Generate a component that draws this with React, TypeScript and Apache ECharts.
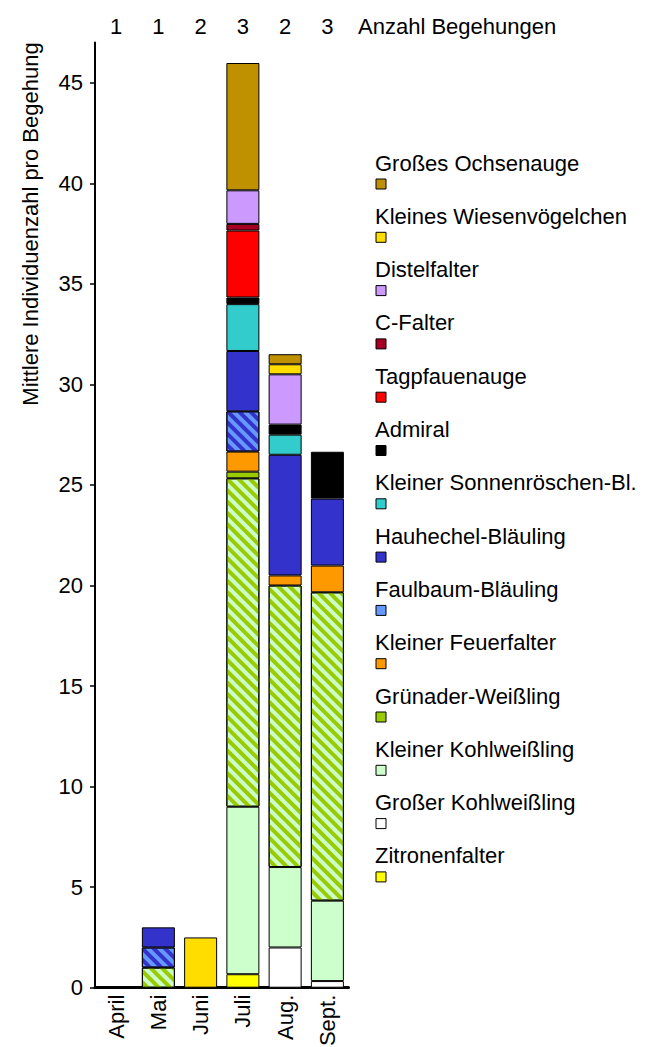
import React, { useEffect, useRef } from 'react';
import * as echarts from 'echarts';

// Categories (months) and number of visits per month
const months = ['April', 'Mai', 'Juni', 'Juli', 'Aug.', 'Sept.'];
const visits = ['1', '1', '2', '3', '2', '3'];
const yTicks = [0, 5, 10, 15, 20, 25, 30, 35, 40, 45];

// Mean individuals per visit (April, Mai, Juni, Juli, Aug., Sept.)
const zitronenfalter = [0, 0, 0, 0.67, 0, 0];
const grosserKohlweissling = [0, 0, 0, 0, 2, 0.33];
const kleinerKohlweissling = [0, 0, 0, 8.33, 4, 4];
const kohlweisslingeUnbestimmt = [0, 1, 0, 16.33, 14, 15.33];
const gruenaderWeissling = [0, 0, 0, 0.33, 0, 0];
const kleinerFeuerfalter = [0, 0, 0, 1, 0.5, 1.33];
const faulbaumBlaeuling = [0, 1, 0, 2, 0, 0];
const hauhechelBlaeuling = [0, 1, 0, 3, 6, 3.33];
const sonnenroeschenBl = [0, 0, 0, 2.33, 1, 0];
const admiral = [0, 0, 0, 0.33, 0.5, 2.33];
const tagpfauenauge = [0, 0, 0, 3.33, 0, 0];
const cFalter = [0, 0, 0, 0.33, 0, 0];
const distelfalter = [0, 0, 0, 1.67, 2.5, 0];
const wiesenvoegelchen = [0, 0, 2.5, 0, 0.5, 0];
const ochsenauge = [0, 0, 0, 6.33, 0.5, 0];

// Stack order (bottom to top)
const seriesDefs: { name: string; data: number[]; color: string; stripe?: string; legend: boolean }[] = [
  { name: 'Zitronenfalter', data: zitronenfalter, color: '#ffff00', legend: true },
  { name: 'Großer Kohlweißling', data: grosserKohlweissling, color: '#ffffff', legend: true },
  { name: 'Kleiner Kohlweißling', data: kleinerKohlweissling, color: '#ccffcc', legend: true },
  { name: 'Kohlweißlinge unbestimmt', data: kohlweisslingeUnbestimmt, color: '#ccffcc', stripe: '#99cc00', legend: false },
  { name: 'Grünader-Weißling', data: gruenaderWeissling, color: '#99cc00', legend: true },
  { name: 'Kleiner Feuerfalter', data: kleinerFeuerfalter, color: '#ff9900', legend: true },
  { name: 'Faulbaum-Bläuling', data: faulbaumBlaeuling, color: '#6699ff', stripe: '#3333cc', legend: true },
  { name: 'Hauhechel-Bläuling', data: hauhechelBlaeuling, color: '#3333cc', legend: true },
  { name: 'Kleiner Sonnenröschen-Bl.', data: sonnenroeschenBl, color: '#33cccc', legend: true },
  { name: 'Admiral', data: admiral, color: '#000000', legend: true },
  { name: 'Tagpfauenauge', data: tagpfauenauge, color: '#ff0000', legend: true },
  { name: 'C-Falter', data: cFalter, color: '#a50021', legend: true },
  { name: 'Distelfalter', data: distelfalter, color: '#cc99ff', legend: true },
  { name: 'Kleines Wiesenvögelchen', data: wiesenvoegelchen, color: '#ffdd00', legend: true },
  { name: 'Großes Ochsenauge', data: ochsenauge, color: '#bf9000', legend: true },
];

const FONT = '"Liberation Sans", Arial, Helvetica, sans-serif';
const FS = 22;

export default function App() {
  const ref = useRef<HTMLDivElement>(null);

  useEffect(() => {
    if (!ref.current) return;
    const chart = echarts.init(ref.current, undefined, { renderer: 'svg' });

    const series = seriesDefs.map((s) => ({
      name: s.name,
      type: 'bar',
      stack: 'total',
      barWidth: 33,
      xAxisIndex: 0,
      yAxisIndex: 0,
      data: s.data.map((v) => (v === 0 ? null : v)),
      itemStyle: {
        color: s.color,
        borderColor: '#000',
        borderWidth: 1,
        decal: s.stripe
          ? {
              symbol: 'rect',
              symbolSize: 1,
              color: s.stripe,
              dashArrayX: [1, 0],
              dashArrayY: [4, 4],
              rotation: Math.PI / 4,
            }
          : undefined,
      },
    }));

    const legendItems = seriesDefs.filter((s) => s.legend).slice().reverse();
    const graphics: any[] = [];
    legendItems.forEach((s, i) => {
      graphics.push({
        type: 'text',
        x: 375,
        y: 163 + 53.3 * i,
        style: {
          text: s.name,
          fill: '#000',
          font: `${FS}px ${FONT}`,
          textAlign: 'left',
          textVerticalAlign: 'middle',
        },
      });
      graphics.push({
        type: 'rect',
        shape: { x: 376, y: 179 + 53.3 * i, width: 10, height: 10 },
        style: { fill: s.color, stroke: '#000', lineWidth: 1 },
      });
    });
    graphics.push({
      type: 'text',
      x: 358,
      y: 26,
      style: {
        text: 'Anzahl Begehungen',
        fill: '#000',
        font: `${FS}px ${FONT}`,
        textAlign: 'left',
        textVerticalAlign: 'middle',
      },
    });
    graphics.push({
      type: 'text',
      x: 30,
      y: 224,
      rotation: Math.PI / 2,
      style: {
        text: 'Mittlere Individuenzahl pro Begehung',
        fill: '#000',
        font: `${FS}px ${FONT}`,
        textAlign: 'center',
        textVerticalAlign: 'middle',
      },
    });

    chart.setOption({
      animation: false,
      backgroundColor: '#fff',
      textStyle: { fontFamily: FONT },
      grid: {
        left: 95,
        top: 42.5,
        width: 253.5,
        height: 945.2,
        containLabel: false,
        outerBoundsMode: 'none',
      },
      xAxis: [
        {
          type: 'category',
          data: months,
          position: 'bottom',
          axisLine: { show: true, lineStyle: { color: '#000', width: 3 } },
          axisTick: { show: false },
          axisLabel: { rotate: 90, color: '#000', fontSize: FS, fontFamily: FONT, margin: 7, interval: 0 },
          splitLine: { show: false },
        },
        {
          type: 'category',
          data: visits,
          position: 'top',
          axisLine: { show: false },
          axisTick: { show: false },
          axisLabel: { color: '#000', fontSize: FS, fontFamily: FONT, margin: 5, interval: 0 },
          splitLine: { show: false },
        },
      ],
      yAxis: {
        type: 'value',
        min: 0,
        max: 47,
        interval: 5,
        axisLine: { show: true, lineStyle: { color: '#000', width: 2 } },
        axisTick: { show: true, inside: false, length: 5, lineStyle: { color: '#000', width: 1.5 }, customValues: yTicks },
        axisLabel: { color: '#000', fontSize: FS, fontFamily: FONT, margin: 12, customValues: yTicks },
        splitLine: { show: false },
      },
      graphic: graphics,
      series,
    });

    return () => chart.dispose();
  }, []);

  return (
    <div
      ref={ref}
      style={{ position: 'fixed', left: 0, top: 0, width: 651, height: 1047, background: '#fff' }}
    />
  );
}
